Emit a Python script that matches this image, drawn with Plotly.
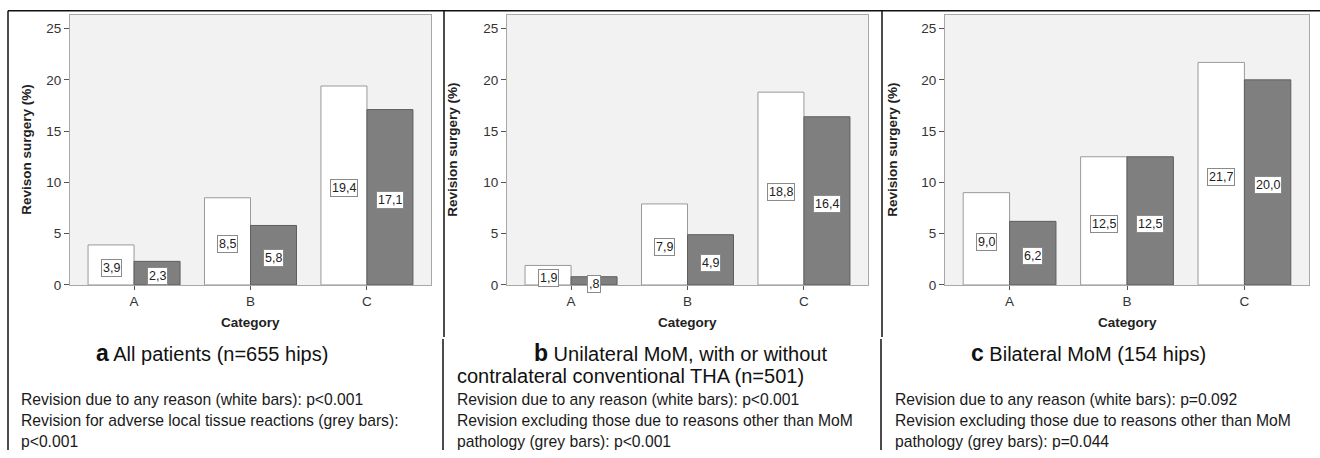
import plotly.graph_objects as go

W, H = 1320, 458

categories = ["A", "B", "C"]
white_a = [3.9, 8.5, 19.4]
grey_a = [2.3, 5.8, 17.1]
white_b = [1.9, 7.9, 18.8]
grey_b = [0.8, 4.9, 16.4]
white_c = [9.0, 12.5, 21.7]
grey_c = [6.2, 12.5, 20.0]
y_ticks = [0, 5, 10, 15, 20, 25]

y_titles = ["Revison surgery (%)", "Revision surgery (%)", "Revision surgery (%)"]
x_title = "Category"
caption_letters = ["a", "b", "c"]
caption_texts = ["All patients (n=655 hips)", "Unilateral MoM, with or without",
                 "Bilateral MoM (154 hips)"]
caption_b_line2 = "contralateral conventional THA (n=501)"
pvalue_lines = [
    ["Revision due to any reason (white bars): p<0.001",
     "Revision for adverse local tissue reactions (grey bars):",
     "p<0.001"],
    ["Revision due to any reason (white bars): p<0.001",
     "Revision excluding those due to reasons other than MoM",
     "pathology (grey bars): p<0.001"],
    ["Revision due to any reason (white bars): p=0.092",
     "Revision excluding those due to reasons other than MoM",
     "pathology (grey bars): p=0.044"],
]

FONT = "Arial, 'Liberation Sans', Helvetica, sans-serif"

def px(x):
    return x / W

def py(y):
    return 1 - y / H

def fmt(v):
    s = f"{v:.1f}".replace(".", ",")
    if s.startswith("0,"):
        s = s[1:]
    return s

panels = [
    (white_a, grey_a, 70, 431, 27),
    (white_b, grey_b, 507, 868, 453),
    (white_c, grey_c, 945, 1309, 893),
]
plot_top, plot_bot = 15, 290
bargap = 0.21
half = (1 - bargap) / 4.0  # center offset of each bar in a pair

fig = go.Figure()
annotations = []
layout_axes = {}

for i, (wv, gv, x0, x1, ytx) in enumerate(panels):
    n = "" if i == 0 else str(i + 1)
    xa, ya = "x" + n, "y" + n
    fig.add_trace(go.Bar(x=categories, y=wv, xaxis=xa, yaxis=ya,
                         marker=dict(color="#ffffff", line=dict(color="#9a9a9a", width=1)),
                         showlegend=False, hoverinfo="skip"))
    fig.add_trace(go.Bar(x=categories, y=gv, xaxis=xa, yaxis=ya,
                         marker=dict(color="#7f7f7f", line=dict(color="#5e5e5e", width=1)),
                         showlegend=False, hoverinfo="skip"))
    layout_axes["xaxis" + n] = dict(
        domain=[px(x0), px(x1)], anchor=ya, range=[-0.55, 2.55],
        showline=True, mirror=True, linecolor="#a8a8a8", linewidth=1.2,
        ticks="outside", ticklen=4, tickcolor="#555", showgrid=False,
        tickfont=dict(family=FONT, size=13.5, color="#333"), zeroline=False,
    )
    layout_axes["yaxis" + n] = dict(
        domain=[py(plot_bot), py(plot_top)], anchor=xa, range=[0, 26.35],
        tickvals=y_ticks, showline=True, mirror=True, linecolor="#a8a8a8", linewidth=1.2,
        ticks="outside", ticklen=5, tickcolor="#555", showgrid=False, zeroline=False,
        tickfont=dict(family=FONT, size=13.5, color="#333"),
    )
    # value labels
    for j, cat in enumerate(categories):
        for v, off in ((wv[j], -half), (gv[j], half)):
            annotations.append(dict(
                x=j + off, y=v / 2, xref=xa, yref=ya, text=fmt(v), showarrow=False,
                yshift=-3, bgcolor="#ffffff", bordercolor="#8a8a8a", borderwidth=1,
                borderpad=1, font=dict(family=FONT, size=12.5, color="#222"),
            ))
    # axis titles
    annotations.append(dict(
        x=px(ytx), y=py((plot_top + plot_bot) / 2), xref="paper", yref="paper",
        text="<b>" + y_titles[i] + "</b>", textangle=-90, showarrow=False,
        xanchor="center", yanchor="middle", font=dict(family=FONT, size=13.5, color="#222"),
    ))
    annotations.append(dict(
        x=px((x0 + x1) / 2), y=py(328), xref="paper", yref="paper",
        text="<b>" + x_title + "</b>", showarrow=False,
        xanchor="center", yanchor="middle", font=dict(family=FONT, size=13.5, color="#222"),
    ))

cap_x = [94, 532, 969]
for i in range(3):
    annotations.append(dict(
        x=px(cap_x[i]), y=py(359), xref="paper", yref="paper",
        text='<b><span style="font-size:23px">' + caption_letters[i] + "</span></b> " + caption_texts[i],
        showarrow=False, xanchor="left", yanchor="middle",
        font=dict(family=FONT, size=20, color="#111"),
    ))
annotations.append(dict(
    x=px(455), y=py(383), xref="paper", yref="paper", text=caption_b_line2,
    showarrow=False, xanchor="left", yanchor="middle",
    font=dict(family=FONT, size=20, color="#111"),
))

p_x = [19, 455, 893]
p_y = [407, 428, 449]
for i in range(3):
    for k, line in enumerate(pvalue_lines[i]):
        annotations.append(dict(
            x=px(p_x[i]), y=py(p_y[k]), xref="paper", yref="paper", text=line,
            showarrow=False, xanchor="left", yanchor="middle",
            font=dict(family=FONT, size=15.7, color="#1a1a1a"),
        ))

shapes = []
def line(xa, ya, xb, yb):
    shapes.append(dict(type="line", xref="paper", yref="paper",
                       x0=px(xa), y0=py(ya), x1=px(xb), y1=py(yb),
                       line=dict(color="#111", width=1.5)))

line(8, 11, 1320, 11)
line(8, 11, 8, 458)
line(444, 11, 444, 343)
line(443, 345, 443, 458)
line(882, 11, 882, 343)
line(881, 345, 881, 458)

fig.update_layout(
    width=W, height=H, margin=dict(l=0, r=0, t=0, b=0),
    paper_bgcolor="#ffffff", plot_bgcolor="#f2f2f2",
    barmode="group", bargap=bargap, bargroupgap=0,
    annotations=annotations, shapes=shapes, **layout_axes,
)

fig.write_html("out.html", config={"displayModeBar": False},
               post_script="document.body.style.margin='0px';document.body.style.overflow='hidden';")
